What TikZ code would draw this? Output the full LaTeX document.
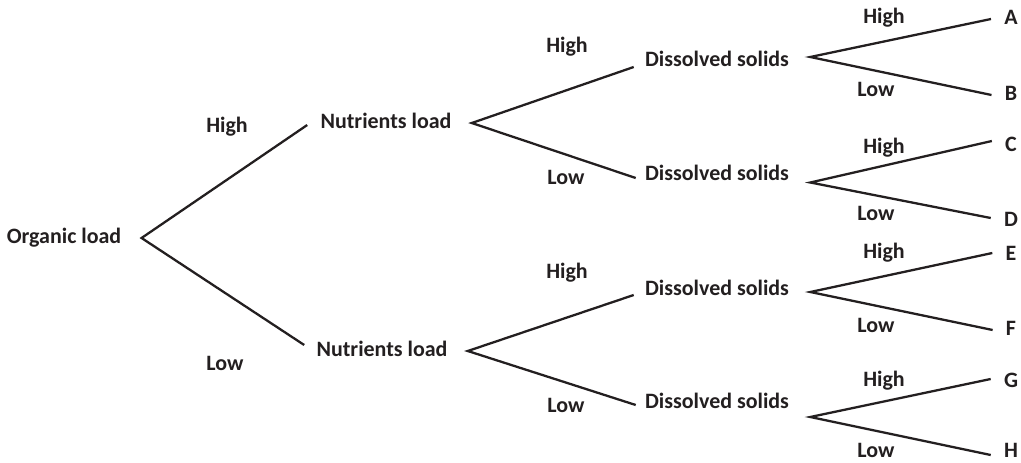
\documentclass[tikz,border=0pt]{standalone}
\usepackage{fontspec}
\setmainfont{Carlito}
\usepackage{tikz}
\usepackage{xcolor}
\usetikzlibrary{positioning}
\definecolor{inkgray}{RGB}{35,31,32}

\begin{document}
\begin{tikzpicture}[
		x=0.02cm, y=-0.02cm,
		every node/.style={font=\fontsize{12.5}{14}\selectfont\bfseries, text=inkgray},
		treenode/.style={inner sep=0pt, text height=1.6ex, text depth=0.3ex},
		branchlbl/.style={inner sep=0pt, text height=1.6ex, text depth=0.3ex},
		branch/.style={draw=inkgray, line width=1.3pt}
	]
		\useasboundingbox (0,0) rectangle (1021,463);

		\node[treenode] (organic) at (64,238) {Organic load};
		\node[treenode] (nutA) at (386,123) {Nutrients load};
		\node[treenode] (nutB) at (382,351) {Nutrients load};
		\node[treenode] (solA) at (717,61) {Dissolved solids};
		\node[treenode] (solB) at (717,175) {Dissolved solids};
		\node[treenode] (solC) at (717,290) {Dissolved solids};
		\node[treenode] (solD) at (717,403) {Dissolved solids};
		\node[treenode] (leafA) at (1011,19) {A};
		\node[treenode] (leafB) at (1011,95) {B};
		\node[treenode] (leafC) at (1011,146) {C};
		\node[treenode] (leafD) at (1011,221) {D};
		\node[treenode] (leafE) at (1011,255) {E};
		\node[treenode] (leafF) at (1011,330) {F};
		\node[treenode] (leafG) at (1011,382) {G};
		\node[treenode] (leafH) at (1011,452) {H};

		% level labels
		\node[branchlbl] (hiOrg) at (227,127) {High};
		\node[branchlbl] (loOrg) at (225,365) {Low};
		\node[branchlbl] (hiNutA) at (567,47) {High};
		\node[branchlbl] (loNutA) at (566,179) {Low};
		\node[branchlbl] (hiNutB) at (567,273) {High};
		\node[branchlbl] (loNutB) at (566,407) {Low};
		\node[branchlbl] (hiSolA) at (884,18) {High};
		\node[branchlbl] (loSolA) at (876,91) {Low};
		\node[branchlbl] (hiSolB) at (884,148) {High};
		\node[branchlbl] (loSolB) at (876,215) {Low};
		\node[branchlbl] (hiSolC) at (884,253) {High};
		\node[branchlbl] (loSolC) at (876,327) {Low};
		\node[branchlbl] (hiSolD) at (884,381) {High};
		\node[branchlbl] (loSolD) at (876,452) {Low};

		\draw[branch] ([xshift=-0.26cm, yshift=-0.04cm]nutA.west) -- ([xshift=0.4cm]organic.east) -- ([xshift=-0.24cm, yshift=0.12cm]nutB.west);
		\draw[branch] ([xshift=-0.22cm, yshift=-0.12cm]solA.west) -- ([xshift=0.4cm]nutA.east) -- ([xshift=-0.18cm, yshift=-0.06cm]solB.west);
		\draw[branch] ([xshift=-0.22cm, yshift=-0.1cm]solC.west) -- ([xshift=0.4cm]nutB.east) -- ([xshift=-0.18cm, yshift=-0.04cm]solD.west);
		\draw[branch] ([xshift=-0.26cm]leafA.west) -- ([xshift=0.42cm, yshift=0.08cm]solA.east) -- ([xshift=-0.26cm]leafB.west);
		\draw[branch] ([xshift=-0.26cm, yshift=0.1cm]leafC.west) -- ([xshift=0.42cm, yshift=-0.15cm]solB.east) -- ([xshift=-0.26cm, yshift=0.06cm]leafD.west);
		\draw[branch] ([xshift=-0.26cm, yshift=0.04cm]leafE.west) -- ([xshift=0.42cm, yshift=-0.04cm]solC.east) -- ([xshift=-0.26cm]leafF.west);
		\draw[branch] ([xshift=-0.26cm, yshift=0.06cm]leafG.west) -- ([xshift=0.42cm, yshift=-0.28cm]solD.east) -- ([xshift=-0.26cm, yshift=-0.06cm]leafH.west);
	\end{tikzpicture}
\end{document}
